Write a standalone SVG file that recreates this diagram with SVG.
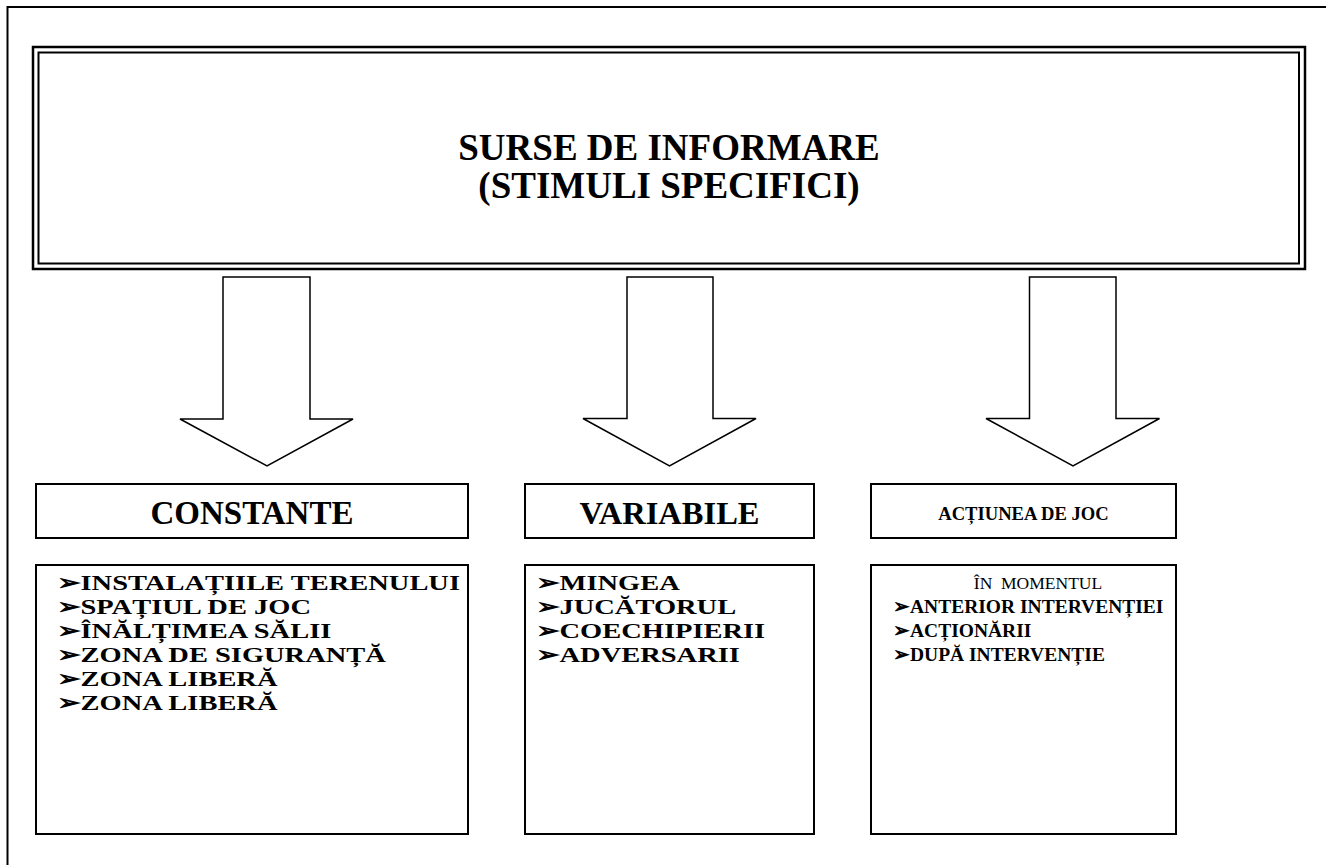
<svg xmlns="http://www.w3.org/2000/svg" width="1326" height="865" viewBox="0 0 1326 865">
<style>
.t{font-family:"Liberation Serif","Times New Roman",serif;fill:#000}
.b{font-weight:bold}
.box{fill:#fff;stroke:#000;stroke-width:2}
.arr{fill:#fff;stroke:#000;stroke-width:1.5;stroke-linejoin:miter}
</style>
<rect width="1326" height="865" fill="#fff"/>
<path d="M7.5,865 V7 H1326" fill="none" stroke="#000" stroke-width="2"/>
<g id="title">
<rect x="33" y="47" width="1272" height="222" fill="#fff" stroke="#000" stroke-width="2.5"/>
<rect x="38.5" y="52.5" width="1260.5" height="211" fill="none" stroke="#000" stroke-width="2"/>
<text class="t b" x="669" y="160" font-size="37" text-anchor="middle">SURSE DE INFORMARE</text>
<text class="t b" x="669" y="198" font-size="37" text-anchor="middle">(STIMULI SPECIFICI)</text>
</g>
<g id="connectors">
<path class="arr" d="M223,277 H310 V419 H353 L267,466 L180,419 H223 Z"/>
<path class="arr" d="M627,277 H713 V418.5 H756 L669.5,466 L583,418.5 H627 Z"/>
<path class="arr" d="M1029.5,277 H1116 V418.5 H1159.5 L1073,466 L986,418.5 H1029.5 Z"/>
</g>
<g id="constante">
<rect class="box" x="36" y="484" width="432" height="54"/>
<text class="t b" x="252" y="524" font-size="33" text-anchor="middle">CONSTANTE</text>
</g>
<g id="variabile">
<rect class="box" x="525" y="484" width="289" height="54"/>
<text class="t b" x="669.5" y="524" font-size="32.5" text-anchor="middle">VARIABILE</text>
</g>
<g id="actiunea">
<rect class="box" x="871" y="484" width="305" height="54"/>
<text class="t b" x="1023.5" y="520" font-size="18.6" text-anchor="middle">ACȚIUNEA DE JOC</text>
</g>
<g id="constante-list">
<rect class="box" x="36" y="565" width="432" height="269"/>
<text class="t b" font-size="22" transform="translate(57 0) scale(1.295 1)">
<tspan x="0" y="590">➢INSTALAȚIILE TERENULUI</tspan>
<tspan x="0" y="614">➢SPAȚIUL DE JOC</tspan>
<tspan x="0" y="638">➢ÎNĂLȚIMEA SĂLII</tspan>
<tspan x="0" y="662">➢ZONA DE SIGURANȚĂ</tspan>
<tspan x="0" y="686">➢ZONA LIBERĂ</tspan>
<tspan x="0" y="710">➢ZONA LIBERĂ</tspan>
</text>
</g>
<g id="variabile-list">
<rect class="box" x="525" y="565" width="289" height="269"/>
<text class="t b" font-size="22" transform="translate(536 0) scale(1.295 1)">
<tspan x="0" y="590">➢MINGEA</tspan>
<tspan x="0" y="614">➢JUCĂTORUL</tspan>
<tspan x="0" y="638">➢COECHIPIERII</tspan>
<tspan x="0" y="662">➢ADVERSARII</tspan>
</text>
</g>
<g id="actiunea-list">
<rect class="box" x="871" y="565" width="305" height="269"/>
<text class="t" x="1038" y="589" font-size="17.5" text-anchor="middle" xml:space="preserve">ÎN  MOMENTUL</text>
<text class="t b" font-size="19.5">
<tspan x="893" y="613">➢ANTERIOR INTERVENȚIEI</tspan>
<tspan x="893" y="637">➢ACȚIONĂRII</tspan>
<tspan x="893" y="661">➢DUPĂ INTERVENȚIE</tspan>
</text>
</g>
</svg>
